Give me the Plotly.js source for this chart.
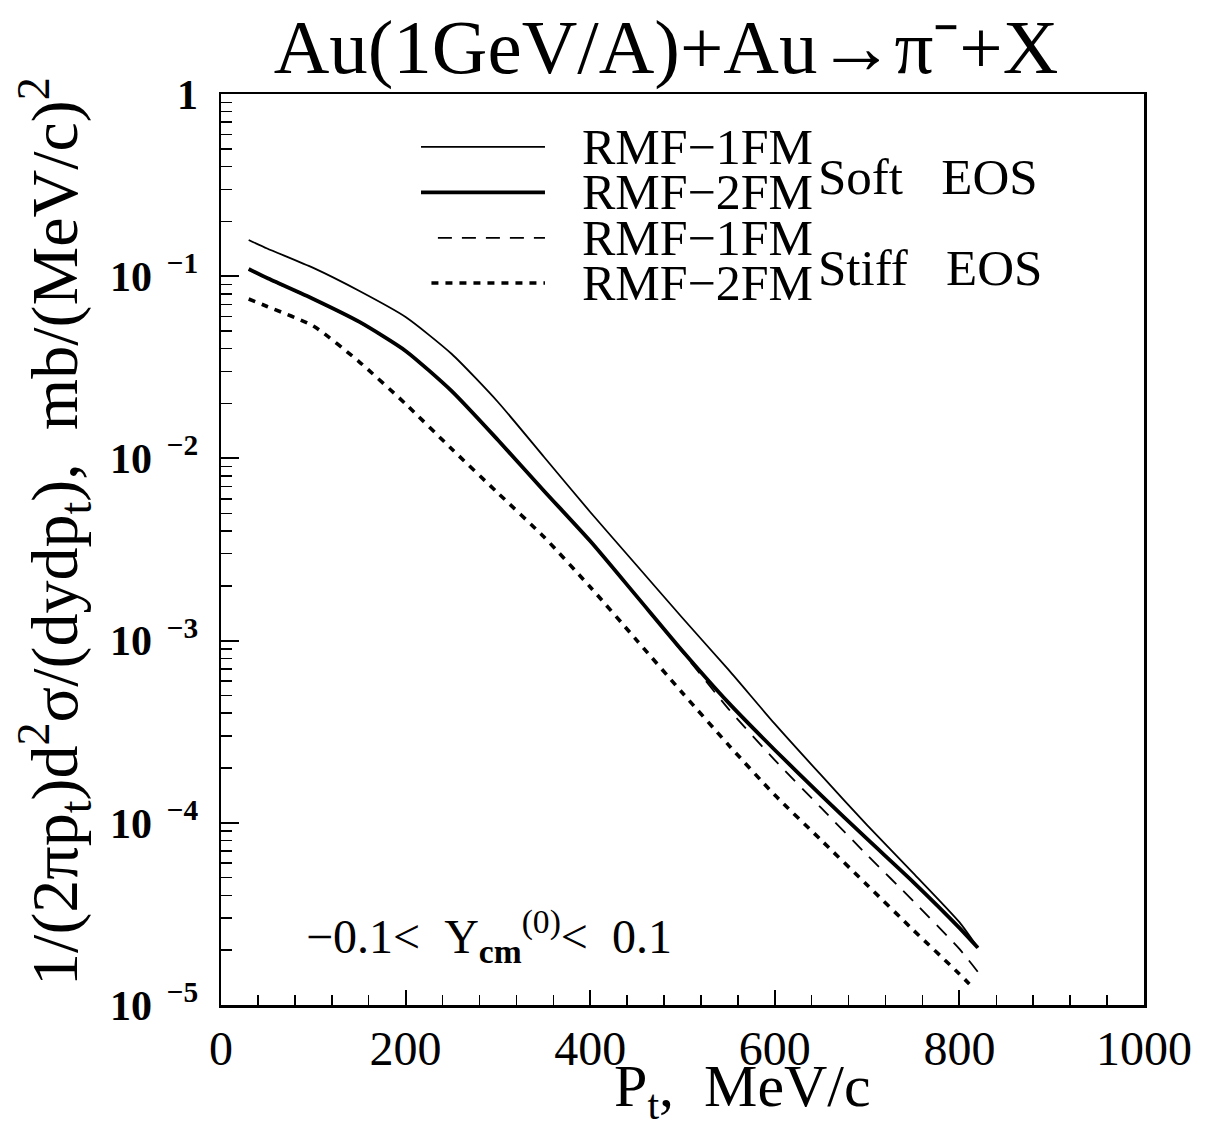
<!DOCTYPE html>
<html>
<head>
<meta charset="utf-8">
<script src="https://cdn.plot.ly/plotly-3.0.1.min.js"></script>
<style>
html,body{margin:0;padding:0;background:#fff;}
#chart{width:1211px;height:1133px;}
</style>
</head>
<body>
<div id="chart"></div>
<script>
// ---- data ----
const ptSoft = [30, 50, 100, 150, 200, 250, 300, 350, 400, 450, 500, 550, 600, 650, 700, 750, 800, 820];
const softRmf1 = [0.158, 0.142, 0.111, 0.0829, 0.0597, 0.0374, 0.0204, 0.01018, 0.00508, 0.00260, 0.00133, 6.90e-4, 3.49e-4, 1.83e-4, 9.72e-5, 5.30e-5, 2.85e-5, 2.06e-5];
const softRmf2 = [0.1095, 0.0977, 0.0750, 0.0561, 0.0389, 0.0234, 0.01262, 0.00663, 0.00352, 0.00176, 8.77e-4, 4.55e-4, 2.51e-4, 1.42e-4, 8.15e-5, 4.73e-5, 2.65e-5, 2.06e-5];
const ptStiff1 = [30, 50, 100, 150, 200, 250, 300, 350, 400, 450, 500, 550, 600, 650, 700, 750, 800, 820];
const stiffRmf1 = [0.1085, 0.0970, 0.0745, 0.0558, 0.0387, 0.0233, 0.01255, 0.00660, 0.00350, 0.00175, 8.65e-4, 4.21e-4, 2.21e-4, 1.21e-4, 6.66e-5, 3.72e-5, 2.03e-5, 1.52e-5];
const ptStiff2 = [30, 50, 100, 150, 200, 250, 300, 350, 400, 450, 500, 550, 600, 650, 700, 750, 800, 815];
const stiffRmf2 = [0.0750, 0.0682, 0.0533, 0.0338, 0.0199, 0.01126, 0.00646, 0.00370, 0.00197, 0.00101, 5.16e-4, 2.67e-4, 1.42e-4, 8.05e-5, 4.56e-5, 2.58e-5, 1.48e-5, 1.24e-5];

const yTickVals = [1e-5, 1e-4, 1e-3, 1e-2, 1e-1, 1];
const yTickText = ['10<sup>\u00a0\u00a0−5</sup>', '10<sup>\u00a0\u00a0−4</sup>', '10<sup>\u00a0\u00a0−3</sup>', '10<sup>\u00a0\u00a0−2</sup>', '10<sup>\u00a0\u00a0−1</sup>', '1'];
const xTickVals = [0, 200, 400, 600, 800, 1000];

const legendNames = ['RMF−1FM', 'RMF−2FM', 'RMF−1FM', 'RMF−2FM'];
const groupNames = ['Soft\u00a0\u00a0\u00a0EOS', 'Stiff\u00a0\u00a0\u00a0EOS'];
const chartTitle = 'Au(1GeV/A)+Au→π⁻+X';
const xTitle = 'P<sub>t</sub>,\u00a0\u00a0MeV/c';
const yTitle = '1/(2πp<sub>t</sub>)d<sup>2</sup>σ/(dydp<sub>t</sub>),\u00a0\u00a0mb/(MeV/c)<sup>2</sup>';
const rangeNote = '−0.1<\u00a0\u00a0Y<sub><b>cm</b></sub><sup>(0)</sup><\u00a0\u00a00.1';

// ---- styles ----
const serif = 'Liberation Serif, Times New Roman, serif';
const styles = [
  {width: 1.8, dash: 'solid'},
  {width: 3.8, dash: 'solid'},
  {width: 1.8, dash: '14px,10px'},
  {width: 3.6, dash: '7px,7px'}
];

const seriesX = [ptSoft, ptSoft, ptStiff1, ptStiff2];
const seriesY = [softRmf1, softRmf2, stiffRmf1, stiffRmf2];
const traces = seriesY.map((ys, i) => ({
  type: 'scatter', mode: 'lines', showlegend: false,
  x: seriesX[i], y: ys, name: legendNames[i],
  line: {color: 'black', shape: 'spline', smoothing: 0.6, width: styles[i].width, dash: styles[i].dash}
}));

// legend drawn with shapes + annotations (paper coords)
const rowsY = [0.942, 0.892, 0.842, 0.7925];
const shapes = rowsY.map((y, i) => ({
  type: 'line', xref: 'paper', yref: 'paper',
  x0: i === 2 ? 0.235 : (i === 3 ? 0.228 : 0.2167), x1: 0.351, y0: y, y1: y,
  line: {color: 'black', width: styles[i].width, dash: styles[i].dash}
}));
const annotations = rowsY.map((y, i) => ({
  xref: 'paper', yref: 'paper', x: 0.389, y: y, xanchor: 'left', yanchor: 'middle',
  text: legendNames[i], showarrow: false, font: {family: serif, size: 50, color: 'black'}
}));
annotations.push({xref: 'paper', yref: 'paper', x: 0.645, y: 0.909, xanchor: 'left', yanchor: 'middle',
  text: groupNames[0], showarrow: false, font: {family: serif, size: 51, color: 'black'}});
annotations.push({xref: 'paper', yref: 'paper', x: 0.645, y: 0.809, xanchor: 'left', yanchor: 'middle',
  text: groupNames[1], showarrow: false, font: {family: serif, size: 51, color: 'black'}});
annotations.push({xref: 'paper', yref: 'paper', x: 0.09, y: 0.075, xanchor: 'left', yanchor: 'middle',
  text: rangeNote, showarrow: false, font: {family: serif, size: 48, color: 'black'}});
// axis titles placed as in the reference (off-centre)
annotations.push({xref: 'paper', yref: 'paper', x: 0.5645, y: -0.1372, xanchor: 'center', yanchor: 'bottom',
  text: xTitle, showarrow: false, font: {family: serif, size: 60, color: 'black'}});
annotations.push({xref: 'paper', yref: 'paper', x: -0.181, y: 0.5203, xanchor: 'center', yanchor: 'middle',
  textangle: -90, text: yTitle, showarrow: false, font: {family: serif, size: 66, color: 'black'}});

const layout = {
  width: 1211, height: 1133,
  paper_bgcolor: 'white', plot_bgcolor: 'white',
  margin: {l: 221, r: 67, t: 94, b: 128},
  title: {
    text: chartTitle,
    font: {family: serif, size: 77, color: 'black'},
    x: 666 / 1211, xanchor: 'center', xref: 'container',
    y: 1 - 46 / 1133, yanchor: 'middle', yref: 'container'
  },
  xaxis: {
    range: [0, 1000], tickvals: xTickVals, ticktext: xTickVals.map(String),
    ticks: 'inside', ticklen: 15, tickwidth: 2, tickcolor: 'black',
    minor: {dtick: 40, tick0: 0, ticks: 'inside', ticklen: 10, tickwidth: 1.5, tickcolor: 'black'},
    showline: true, mirror: true, linecolor: 'black', linewidth: 2.5,
    showgrid: false, zeroline: false,
    tickfont: {family: serif, size: 48, color: 'black'},
    title: {text: ''}
  },
  yaxis: {
    type: 'log', range: [-5, 0],
    tickmode: 'array', tickvals: yTickVals, ticktext: yTickText,
    ticks: 'inside', ticklen: 18, tickwidth: 2, tickcolor: 'black',
    minor: {dtick: 'D1', ticks: 'inside', ticklen: 11, tickwidth: 1.5, tickcolor: 'black'},
    showline: true, mirror: true, linecolor: 'black', linewidth: 2.5,
    showgrid: false, zeroline: false, ticklabelstandoff: 12,
    tickfont: {family: serif, size: 42, color: 'black', weight: 'bold'},
    title: {text: ''}
  },
  shapes: shapes,
  annotations: annotations,
  showlegend: false
};

Plotly.newPlot('chart', traces, layout, {staticPlot: true, displayModeBar: false});
</script>
</body>
</html>
